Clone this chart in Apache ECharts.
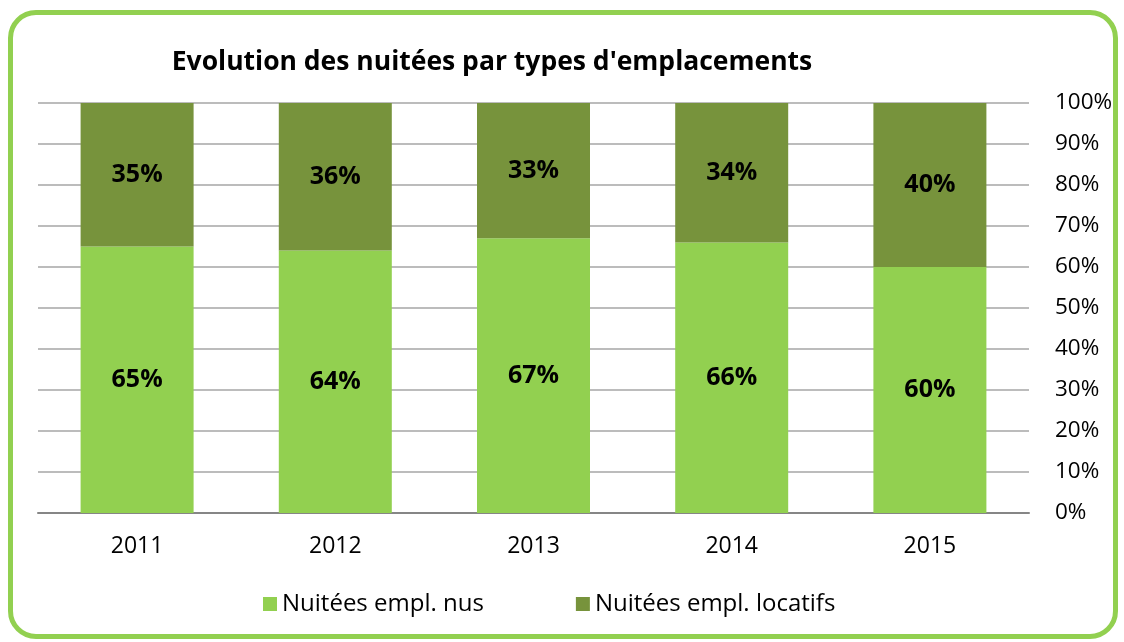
<!DOCTYPE html>
<html>
<head>
<meta charset="utf-8">
<script src="https://cdn.jsdelivr.net/npm/echarts@6/dist/echarts.min.js"></script>
<style>
  html, body { margin: 0; padding: 0; background: #fff; }
  #frame {
    position: absolute; left: 8px; top: 10px; width: 1110px; height: 629px;
    border: 5px solid #92d050; border-radius: 28px; box-sizing: border-box;
  }
  #chart { position: absolute; left: 0; top: 0; width: 1124px; height: 642px; }
</style>
</head>
<body>
<div id="frame"></div>
<div id="chart"></div>
<script>
// Share of overnight stays per pitch type, in percent
const years = ['2011', '2012', '2013', '2014', '2015'];
const nus = [65, 64, 67, 66, 60];
const locatifs = [35, 36, 33, 34, 40];
const seriesNames = ['Nuitées empl. nus', 'Nuitées empl. locatifs'];

const FONT = '"Open Sans", Lato, sans-serif';

const labelStyle = {
  show: true,
  position: 'inside',
  formatter: p => p.value + '%',
  color: '#000',
  fontWeight: 'bold',
  fontSize: 25,
  fontFamily: FONT
};

const chart = echarts.init(document.getElementById('chart'), null, { renderer: 'canvas' });
chart.setOption({
  animation: false,
  backgroundColor: 'transparent',
  title: {
    text: "Evolution des nuitées par types d'emplacements",
    left: 487, top: 44, textAlign: 'center',
    textStyle: { fontFamily: FONT, fontWeight: 'bold', fontSize: 26.5, color: '#000' }
  },
  legend: {
    data: seriesNames,
    bottom: 21, left: 258,
    itemWidth: 14, itemHeight: 14, itemGap: 92,
    icon: 'rect',
    textStyle: { fontFamily: FONT, fontSize: 24, color: '#000' }
  },
  grid: { left: 38, right: 95, top: 103, bottom: 129, containLabel: false },
  xAxis: {
    type: 'category',
    data: years,
    axisLine: { lineStyle: { color: '#868686', width: 2 } },
    axisTick: { show: false },
    axisLabel: { fontFamily: FONT, fontSize: 23, color: '#000', margin: 22 }
  },
  yAxis: {
    type: 'value',
    position: 'right',
    min: 0, max: 100, interval: 10,
    axisLine: { show: false },
    axisTick: { show: false },
    axisLabel: { formatter: '{value}%', fontFamily: FONT, fontSize: 22.5, color: '#000', margin: 26 },
    splitLine: { lineStyle: { color: '#a6a6a6', width: 1.5 } }
  },
  series: [
    {
      name: seriesNames[0], type: 'bar', stack: 'total', data: nus,
      barWidth: 113, itemStyle: { color: '#92d050' }, label: labelStyle
    },
    {
      name: seriesNames[1], type: 'bar', stack: 'total', data: locatifs,
      barWidth: 113, itemStyle: { color: '#77933c' }, label: labelStyle
    }
  ]
});
</script>
</body>
</html>
